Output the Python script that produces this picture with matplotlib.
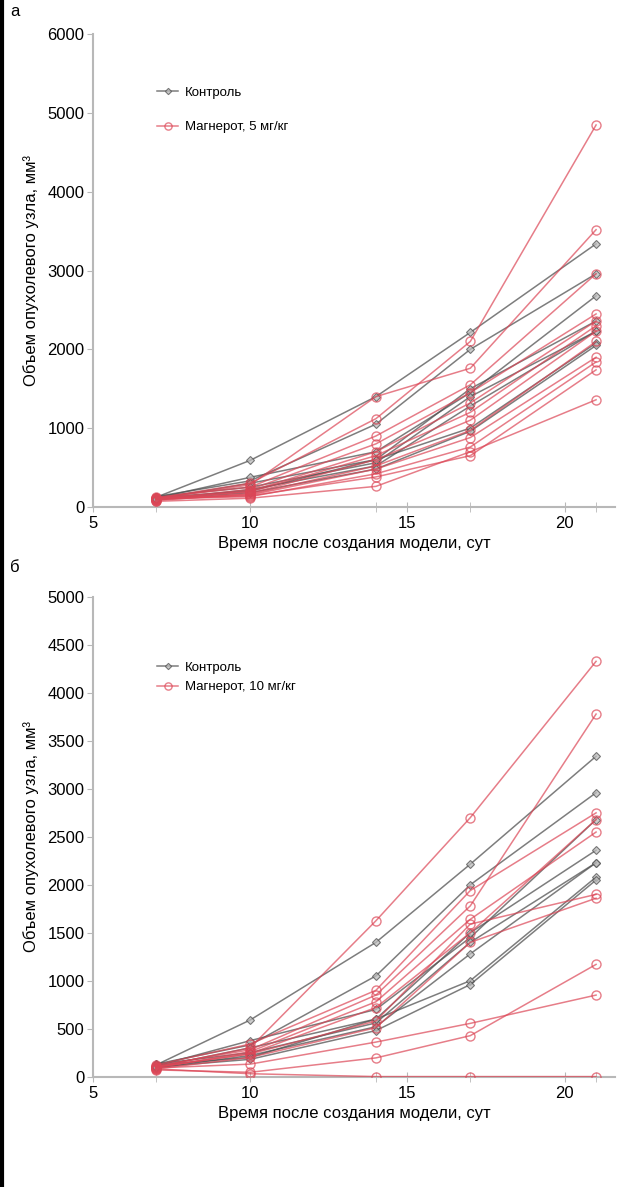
import matplotlib
matplotlib.use("Agg")
import matplotlib.pyplot as plt
from matplotlib.lines import Line2D

plt.rcParams['font.family'] = ['Liberation Sans', 'DejaVu Sans']

days = [7, 10, 14, 17, 21]

# tumour volume, mm3, one row per animal
control = [
    [120, 590, 1400, 2215, 3340],
    [130, 330, 1050, 2000, 2960],
    [110, 375, 700, 1450, 2680],
    [100, 300, 600, 1500, 2360],
    [130, 250, 560, 1400, 2230],
    [90, 220, 520, 1280, 2230],
    [120, 200, 600, 1000, 2080],
    [100, 180, 480, 960, 2050],
]

magnerot5 = [
    [110, 300, 1120, 2100, 4850],
    [100, 280, 1400, 1760, 3520],
    [120, 250, 900, 1550, 2960],
    [100, 220, 800, 1450, 2450],
    [90, 200, 700, 1320, 2360],
    [110, 190, 650, 1200, 2300],
    [80, 170, 600, 1100, 2230],
    [100, 160, 520, 970, 2100],
    [90, 150, 480, 880, 1900],
    [100, 130, 420, 760, 1840],
    [110, 140, 380, 650, 1740],
    [70, 110, 260, 700, 1360],
]

magnerot10 = [
    [100, 300, 1625, 2700, 4330],
    [110, 280, 850, 1780, 3780],
    [120, 340, 900, 1940, 2750],
    [90, 260, 780, 1640, 2550],
    [100, 240, 720, 1500, 2680],
    [100, 236, 580, 1590, 1900],
    [80, 200, 510, 1400, 1860],
    [90, 130, 360, 555, 850],
    [70, 45, 195, 427, 1170],
    [80, 30, 0, 0, 0],
]

labels = ['Контроль', 'Магнерот, 5 мг/кг', 'Магнерот, 10 мг/кг']
xlabel = 'Время после создания модели, сут'
ylabel = 'Объем опухолевого узла, мм³'

gray = '#525252'
red = '#dc4656'
axis_col = '#b8b8b8'

fig = plt.figure(figsize=(6.32, 11.87), dpi=100)
ax_top = fig.add_axes([0.147, 0.573, 0.826, 0.398])
ax_bot = fig.add_axes([0.147, 0.093, 0.826, 0.404])


def draw(ax, treated, treated_label, ymax, ystep, legend_y, legend_gap):
    for i, row in enumerate(control):
        ax.plot(days, row, color=gray, lw=1.1, alpha=0.75, marker='D', markersize=4,
                markerfacecolor='#bdbdbd', markeredgecolor=gray, markeredgewidth=0.8,
                label=labels[0] if i == 0 else None, zorder=2)
    for i, row in enumerate(treated):
        ax.plot(days, row, color=red, lw=1.1, alpha=0.7, marker='o', markersize=6.5,
                markerfacecolor='none', markeredgecolor=red, markeredgewidth=1.0,
                label=treated_label if i == 0 else None, zorder=3)

    ax.set_xlim(5, 21.6)
    ax.set_ylim(0, ymax)
    ax.set_xticks([5, 10, 15, 20])
    ax.set_xticks(days, minor=True)
    ax.set_yticks(range(0, ymax + 1, ystep))
    for s in ['top', 'right']:
        ax.spines[s].set_visible(False)
    for s in ['left', 'bottom']:
        ax.spines[s].set_color(axis_col)
        ax.spines[s].set_linewidth(1.5)
    ax.tick_params(axis='x', which='both', direction='inout', length=7, color=axis_col,
                   labelsize=12, pad=3)
    ax.tick_params(axis='y', direction='out', length=4, color=axis_col, labelsize=12, pad=2)
    ax.set_xlabel(xlabel, fontsize=12, labelpad=4)
    ax.set_ylabel(ylabel, fontsize=12, labelpad=6)
    ax.legend(loc='upper left', bbox_to_anchor=(0.1, legend_y), frameon=False, fontsize=9.5,
              handlelength=1.6, handletextpad=0.5, labelspacing=legend_gap, markerscale=0.8)


draw(ax_top, magnerot5, labels[1], 6000, 1000, 0.915, 1.7)
draw(ax_bot, magnerot10, labels[2], 5000, 500, 0.89, 0.55)

fig.text(10 / 632, 1 - 12 / 1187, 'а', fontsize=12, va='center')
fig.text(10 / 632, 1 - 567 / 1187, 'б', fontsize=12, va='center')
fig.add_artist(Line2D([0.003, 0.003], [0, 1], color='black', lw=3, transform=fig.transFigure))

fig.savefig('out.png', dpi=100)
